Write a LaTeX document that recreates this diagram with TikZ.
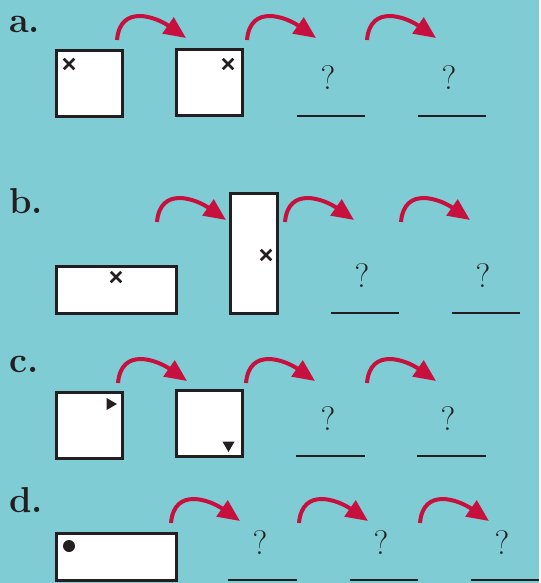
\documentclass[tikz,border=0pt]{standalone}
\usepackage{fontspec}
\usepackage{xcolor}
\usepackage{tikz}
\usetikzlibrary{arrows.meta,shapes.misc,shapes.geometric}
\definecolor{panel}{HTML}{80CCD4}
\definecolor{hopred}{HTML}{C8103E}
\definecolor{ink}{HTML}{231F20}

\begin{document}
\begin{tikzpicture}[
    x=1pt, y=-1pt,
    letter/.style={anchor=base west, inner sep=0, text=ink, font=\fontsize{36}{40}\selectfont\bfseries},
    card/.style={draw=ink, fill=white, line width=3pt, inner sep=0},
    sq/.style={card, minimum width=66pt, minimum height=66pt},
    wide/.style={card, minimum width=120pt, minimum height=47pt},
    tall/.style={card, minimum width=47pt, minimum height=120pt},
    xmark/.style={cross out, draw=ink, line width=2.5pt, minimum size=8pt, inner sep=0},
    tri/.style={regular polygon, regular polygon sides=3, fill=ink, minimum size=14pt, inner sep=0},
    qmark/.style={anchor=base, inner sep=0, text=ink, font=\fontsize{34}{40}\selectfont},
    gap/.style={minimum width=68pt, inner sep=0},
    rule/.style={draw=ink, line width=2.2pt},
    hop/.style={hopred, line width=4pt, -{Triangle[length=22pt, width=19pt]}}
]
\fill[panel] (0,0) rectangle (539,583);

% a.
\node[letter] (la) at (9,33) {a.};
\node[sq] (a1) at (89,84) {};
\node[xmark] (xa1) at (69,64) {};
\node[sq] (a2) at (209,83) {};
\node[xmark] (xa2) at (228,64) {};
\node[qmark] (qa3) at (328,90) {?};
\node[qmark] (qa4) at (449,90) {?};
\node[gap] (ua3) at (331,116) {};
\node[gap] (ua4) at (452,116) {};

% b.
\node[letter] (lb) at (9,213) {b.};
\node[wide] (b1) at (116,289.5) {};
\node[xmark] (xb1) at (116,277) {};
\node[tall] (b2) at (253.5,253) {};
\node[xmark] (xb2) at (266,255) {};
\node[qmark] (qb3) at (362,287) {?};
\node[qmark] (qb4) at (483,287) {?};
\node[gap] (ub3) at (365,313) {};
\node[gap] (ub4) at (486,313) {};

% c.
\node[letter] (lc) at (9,372) {c.};
\node[sq] (c1) at (89,425) {};
\node[tri, shape border rotate=-90] (mc1) at (110,404) {};
\node[sq] (c2) at (209,423.5) {};
\node[tri, shape border rotate=180] (mc2) at (228.5,445) {};
\node[qmark] (qc3) at (328,430) {?};
\node[qmark] (qc4) at (448,430) {?};
\node[gap] (uc3) at (330.5,456) {};
\node[gap] (uc4) at (451.5,456) {};

% d.
\node[letter] (ld) at (9,512) {d.};
\node[wide] (d1) at (116,557) {};
\node[circle, fill=ink, minimum size=12pt, inner sep=0] (md1) at (69,546) {};
\node[qmark] (qd2) at (260,554) {?};
\node[qmark] (qd3) at (381,554) {?};
\node[qmark] (qd4) at (502,554) {?};
\node[gap] (ud2) at (262.5,580) {};
\node[gap] (ud3) at (384,580) {};
\node[gap] (ud4) at (505,580) {};

% answer lines
\foreach \u in {ua3,ua4,ub3,ub4,uc3,uc4,ud2,ud3,ud4}
    \draw[rule] (\u.west) -- (\u.east);

% turn arrows
\foreach \n/\x/\y in {a1/117/40, a2/247/40, a3/367/40,
                      b1/157/222, b2/285/222, b3/401/222,
                      c1/118/383, c2/246/383, c3/367/383,
                      d1/171/523, d2/299/523, d3/420/523} {
    \coordinate (s\n) at (\x,\y);
    \coordinate (t\n) at (\x+69,\y-2);
    \draw[hop] (s\n) to[out=85, in=145, looseness=1.35] (t\n);
}
\end{tikzpicture}
\end{document}
